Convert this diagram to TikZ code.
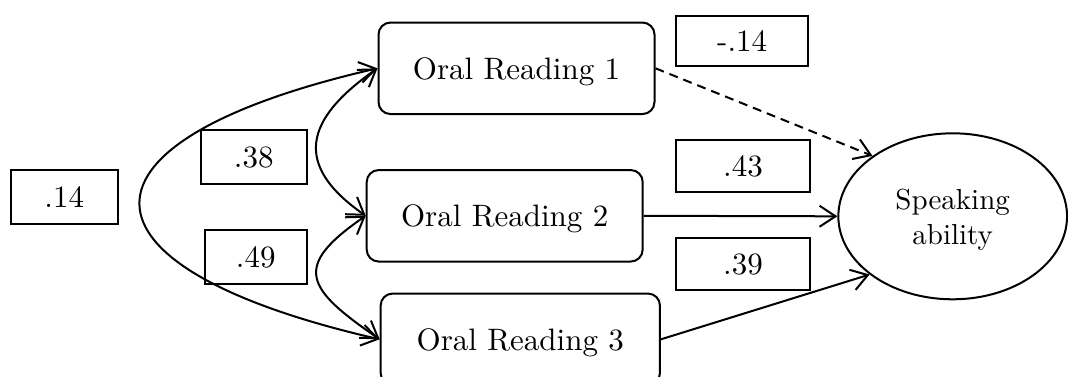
\documentclass[tikz,border=0pt]{standalone}
\usepackage{fontspec}
\setmainfont{lmroman10-regular.otf}
\usetikzlibrary{arrows.meta,calc,shapes.geometric}
\begin{document}
\begin{tikzpicture}[x=1pt,y=-1pt,line width=2pt,
  reading/.style={draw, rounded corners=12pt, minimum width=276pt,
    minimum height=91.5pt, inner sep=0pt, text depth=0pt,
    font=\fontsize{31}{37}\selectfont},
  coef/.style={draw, inner sep=0pt, text depth=0pt,
    font=\fontsize{31}{37}\selectfont},
  latent/.style={draw, ellipse, inner sep=0pt, minimum width=228.7pt,
    minimum height=166pt, align=center, text depth=0pt,
    font=\fontsize{29}{35}\selectfont},
  barb/.tip={Straight Barb[length=16pt,width=21pt]},
  link/.style={-barb},
  cov/.style={barb-barb}]
\useasboundingbox (0,0) rectangle (1068,376);
\clip (0,0) rectangle (1068,376);

% observed predictors
\node[reading] (or1) at (516.5,68.3) {Oral Reading 1};
\node[reading] (or2) at (504.7,215.8) {Oral Reading 2};
\node[reading, minimum width=279.3pt] (or3) at (520.3,339.3) {Oral Reading 3};

% outcome
\node[latent] (sa) at (952.7,216.3) {Speaking\\ability};

% coefficients
\node[coef, minimum width=106.7pt, minimum height=54pt] (c13) at (64.3,197) {.14};
\node[coef, minimum width=106.3pt, minimum height=53.7pt] (c12) at (253.8,156.8) {.38};
\node[coef, minimum width=102.3pt, minimum height=54pt] (c23) at (255.8,256.7) {.49};
\node[coef, minimum width=132.3pt, minimum height=50.3pt] (b1) at (742.2,41.2) {-.14};
\node[coef, minimum width=134pt, minimum height=52pt] (b2) at (743,166) {.43};
\node[coef, minimum width=134pt, minimum height=52pt] (b3) at (743,263.7) {.39};

% correlations between predictors
\draw[cov] (or1.west) .. controls ($(or1.west)+(-318,73)$) and ($(or3.west)+(-318,-73)$) .. (or3.west);
\draw[cov] (or1.west) .. controls ($(or1.west)+(-73,51)$) and ($(or2.west)+(-73,-51)$) .. (or2.west);
\draw[cov] (or2.west) .. controls ($(or2.west)+(-74,51)$) and ($(or3.west)+(-74,-51)$) .. (or3.west);

% paths to speaking ability
\draw[link, dash pattern=on 9pt off 6pt] (or1.east) -- (sa.143);
\draw[link] (or2.east) -- (sa.west);
\draw[link] (or3.east) -- (sa.215);
\end{tikzpicture}
\end{document}
